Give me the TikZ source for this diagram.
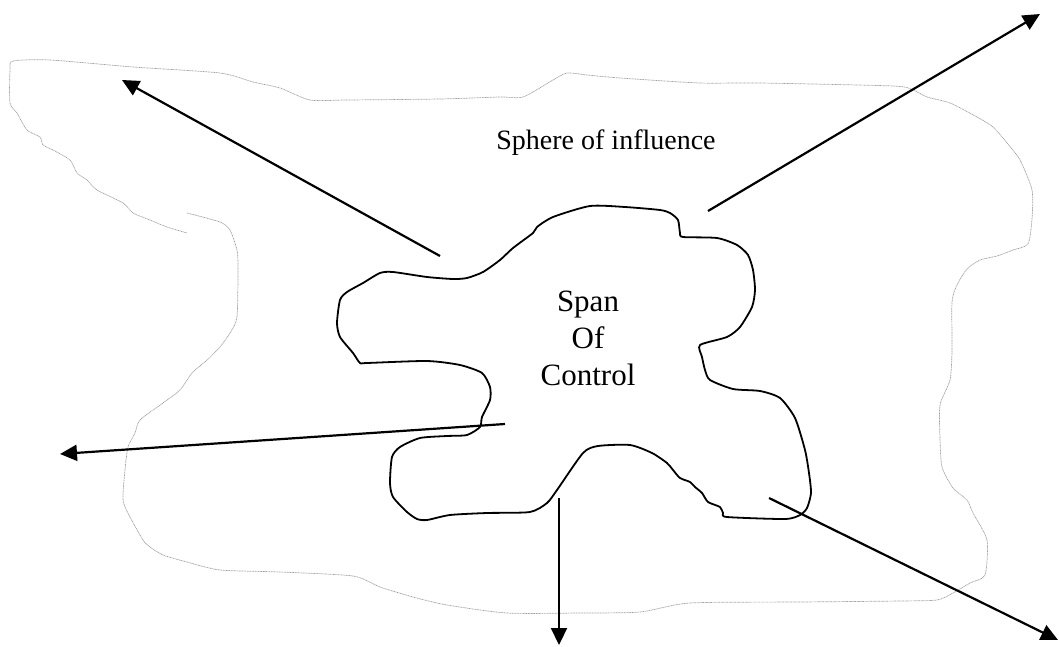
\documentclass[tikz,border=0pt]{standalone}
\usepackage{fontspec}
\setmainfont{Liberation Serif}
\usepackage{tikz}
\usetikzlibrary{arrows.meta}
\definecolor{outlinegray}{RGB}{160,160,160}

\begin{document}
\begin{tikzpicture}[x=1pt,y=-1pt,
			pointer/.style={draw,line width=2.2pt,-{Triangle[length=17pt,width=16pt]}},
			sphereline/.style={draw=outlinegray,line width=0.7pt,dash pattern=on 1pt off 0.6pt},
			spanline/.style={draw,line width=1.8pt,line join=round}]
			\useasboundingbox (0,0) rectangle (1059,647);
			\draw[sphereline] plot[smooth,tension=0.4] coordinates {
				(187,213) (220,222) (230,230) (237,250) (238,267) (237,317) (230,333) (220,347)
				(207,360) (192,373) (180,390) (163,403) (140,420) (135,433) (128,447) (125,470)
				(123,500) (130,517) (143,540) (150,547) (163,555) (187,562) (220,570) (280,572)
				(353,576) (380,587) (413,597) (447,605) (507,613) (580,613) (640,612) (690,603)
				(800,602) (900,601) (937,600) (953,593) (970,583) (985,575) (987,540) (973,513)
				(967,500) (953,488) (942,467) (940,438) (940,405) (950,380) (952,351) (952,302)
				(957,285) (967,269) (980,260) (997,256) (1013,250) (1028,244) (1032,219) (1032,190)
				(1020,160) (1007,143) (993,127) (977,117) (950,103) (927,97) (913,90) (893,86)
				(760,83) (700,83) (620,78) (587,75) (567,73) (553,80) (523,97) (500,97)
				(440,99) (347,100) (310,100) (280,88) (253,82) (220,73) (133,67) (50,60)
				(13,61) (10,70) (10,103) (17,113) (27,130) (40,137) (43,145) (53,150)
				(70,160) (77,173) (87,180) (97,190) (123,203) (133,213) (150,220) (167,227) (187,233)};
			\draw[spanline] plot[smooth cycle,tension=0.4] coordinates {
				(590,206) (625,207) (660,210) (670,213) (678,220) (680,233) (683,237) (717,238)
				(737,245) (748,255) (753,270) (755,290) (752,307) (740,327) (727,337) (700,345)
				(702,357) (705,370) (710,380) (733,389) (760,391) (780,398) (795,418) (805,450)
				(809,473) (811,493) (807,508) (800,515) (785,519) (727,517) (723,513) (720,507)
				(708,502) (702,493) (695,487) (690,482) (680,478) (673,470) (667,463) (652,453)
				(630,445) (598,446) (583,453) (557,490) (547,503) (530,512) (487,513) (450,515)
				(427,520) (417,519) (407,512) (393,497) (390,483) (392,457) (400,447) (420,438)
				(447,436) (467,435) (480,427) (482,417) (490,400) (490,387) (482,373) (460,365)
				(427,361) (367,363) (360,363) (353,353) (340,337) (337,323) (340,300) (347,292)
				(363,283) (380,273) (393,272) (427,277) (453,279) (467,278) (483,272) (500,260)
				(513,248) (533,233) (537,227) (553,217)};
			\node[anchor=base,font=\fontsize{28}{34}\selectfont] (sphere) at (606,150) {Sphere of influence};
			\node[align=center,font=\fontsize{31}{37}\selectfont] (span) at (588,338) {Span\\Of\\Control};
			\coordinate (start_1) at (440,256);
			\coordinate (tip_1) at (122,80);
			\coordinate (start_2) at (708,211);
			\coordinate (tip_2) at (1040,14);
			\coordinate (start_3) at (505,424);
			\coordinate (tip_3) at (60,454);
			\coordinate (start_4) at (559,498);
			\coordinate (tip_4) at (559,645);
			\coordinate (start_5) at (769,498);
			\coordinate (tip_5) at (1058,640);
			\draw[pointer] (start_1) -- (tip_1);
			\draw[pointer] (start_2) -- (tip_2);
			\draw[pointer] (start_3) -- (tip_3);
			\draw[pointer] (start_4) -- (tip_4);
			\draw[pointer] (start_5) -- (tip_5);
		\end{tikzpicture}
\end{document}
